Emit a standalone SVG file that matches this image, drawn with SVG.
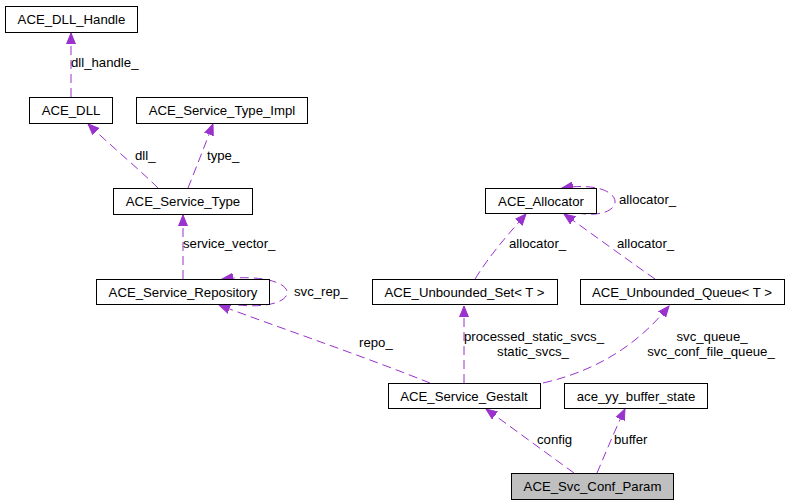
<svg xmlns="http://www.w3.org/2000/svg" width="793" height="504" viewBox="0 0 793 504">
<style>
.node rect{fill:#ffffff;stroke:#000000;stroke-width:1}
.node text{font-family:"Liberation Sans",Arial,sans-serif;font-size:13.2px;fill:#000000;text-anchor:middle}
.edges path{fill:none;stroke:#9a32cd;stroke-width:1;stroke-dasharray:9,5}
.lbl{font-family:"Liberation Sans",Arial,sans-serif;font-size:13.2px;fill:#000000}
.mid{text-anchor:middle}
</style>
<defs>
<marker id="ah" markerUnits="userSpaceOnUse" markerWidth="12" markerHeight="10" refX="11" refY="4.5" orient="auto" viewBox="0 0 12 9">
<polygon points="0,0 11,4.5 0,9" fill="#9a32cd" stroke="#9a32cd"/>
</marker>
</defs>
<rect width="793" height="504" fill="#ffffff"/>
<g class="edges">
<path d="M71,97 L71,33" marker-end="url(#ah)"/>
<path d="M158,188 C140,170 110,145 88,124" marker-end="url(#ah)"/>
<path d="M188,188 C196,168 205,145 213,124" marker-end="url(#ah)"/>
<path d="M183,279 L183,215" marker-end="url(#ah)"/>
<path d="M238,305 C306,312 306,270 222,279" marker-end="url(#ah)"/>
<path d="M430,383 C360,355 280,328 219,305" marker-end="url(#ah)"/>
<path d="M464,383 L464,306" marker-end="url(#ah)"/>
<path d="M543,383 C600,370 640,342 669,306" marker-end="url(#ah)"/>
<path d="M475,279 C490,255 505,238 526,214" marker-end="url(#ah)"/>
<path d="M655,279 C625,258 595,236 564,214" marker-end="url(#ah)"/>
<path d="M577,213 C630,222 630,178 562,188" marker-end="url(#ah)"/>
<path d="M574,473 C545,452 515,430 486,409" marker-end="url(#ah)"/>
<path d="M597,473 C606,452 615,430 625,409" marker-end="url(#ah)"/>
</g>
<g class="labels">
<text class="lbl" x="71" y="67">dll_handle_</text>
<text class="lbl" x="135" y="160">dll_</text>
<text class="lbl" x="207" y="160">type_</text>
<text class="lbl" x="183" y="248">service_vector_</text>
<text class="lbl" x="294" y="296">svc_rep_</text>
<text class="lbl" x="359" y="347">repo_</text>
<text class="lbl" x="464" y="341">processed_static_svcs_</text>
<text class="lbl mid" x="533" y="356">static_svcs_</text>
<text class="lbl mid" x="712" y="341">svc_queue_</text>
<text class="lbl mid" x="711" y="356">svc_conf_file_queue_</text>
<text class="lbl" x="509" y="248">allocator_</text>
<text class="lbl" x="617" y="248">allocator_</text>
<text class="lbl" x="619" y="204">allocator_</text>
<text class="lbl" x="537" y="444">config</text>
<text class="lbl" x="614" y="444">buffer</text>
</g>
<g id="ACE_DLL_Handle" class="node"><rect x="5.5" y="6.5" width="132" height="26"/><text x="71.5" y="24">ACE_DLL_Handle</text></g>
<g id="ACE_DLL" class="node"><rect x="29.5" y="97.5" width="83" height="26"/><text x="71" y="115">ACE_DLL</text></g>
<g id="ACE_Service_Type_Impl" class="node"><rect x="136.5" y="97.5" width="171" height="26"/><text x="222" y="115">ACE_Service_Type_Impl</text></g>
<g id="ACE_Service_Type" class="node"><rect x="113.5" y="188.5" width="139" height="26"/><text x="183" y="206">ACE_Service_Type</text></g>
<g id="ACE_Allocator" class="node"><rect x="485.5" y="188.5" width="111" height="25"/><text x="541" y="205.5">ACE_Allocator</text></g>
<g id="ACE_Service_Repository" class="node"><rect x="96.5" y="279.5" width="173" height="25"/><text x="183" y="296.5">ACE_Service_Repository</text></g>
<g id="ACE_Unbounded_Set" class="node"><rect x="372.5" y="279.5" width="185" height="25"/><text x="464.5" y="296.5">ACE_Unbounded_Set&lt; T &gt;</text></g>
<g id="ACE_Unbounded_Queue" class="node"><rect x="580.5" y="279.5" width="204" height="25"/><text x="682" y="296.5">ACE_Unbounded_Queue&lt; T &gt;</text></g>
<g id="ACE_Service_Gestalt" class="node"><rect x="388.5" y="383.5" width="152" height="25"/><text x="464" y="400.5">ACE_Service_Gestalt</text></g>
<g id="ace_yy_buffer_state" class="node"><rect x="564.5" y="383.5" width="143" height="25"/><text x="636" y="400.5">ace_yy_buffer_state</text></g>
<g id="ACE_Svc_Conf_Param" class="node"><rect x="511.5" y="473.5" width="162" height="26" style="fill:#bfbfbf"/><text x="592.5" y="491">ACE_Svc_Conf_Param</text></g>
</svg>
